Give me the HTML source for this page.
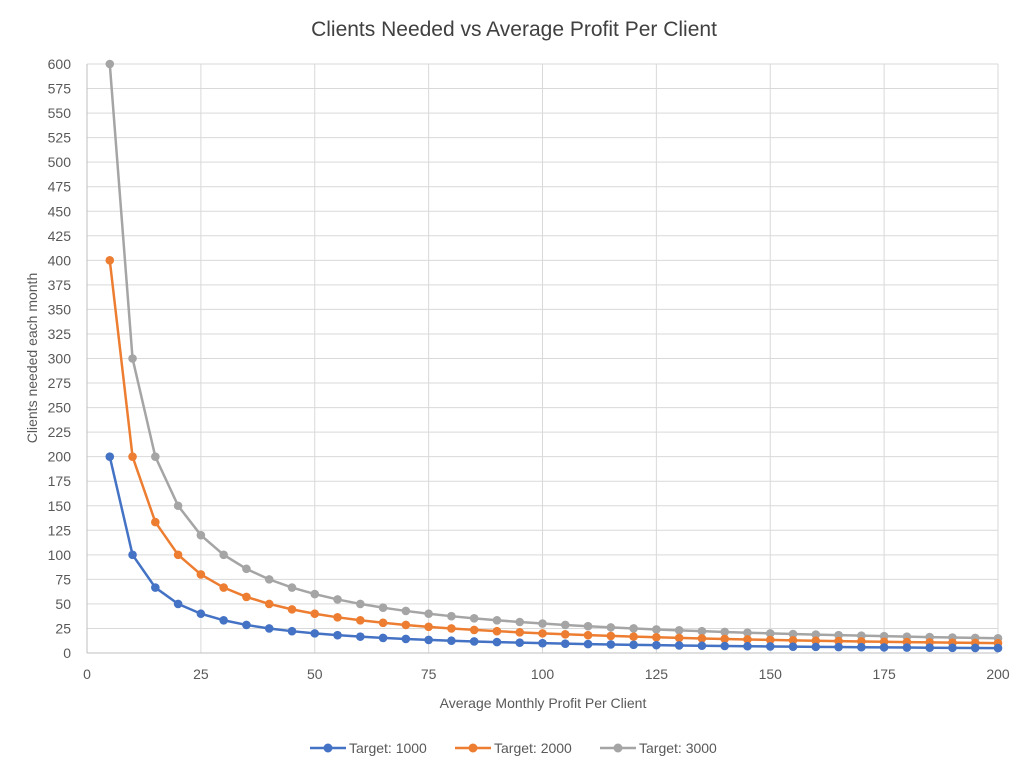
<!DOCTYPE html>
<html><head><meta charset="utf-8"><style>
body{margin:0;background:#fff;}
svg text{font-family:"Liberation Sans",sans-serif;fill:#595959;}
</style></head><body>
<svg id="c" width="1024" height="768" xmlns="http://www.w3.org/2000/svg">
<text x="514" y="36" text-anchor="middle" font-size="21" style="fill:#404040">Clients Needed vs Average Profit Per Client</text>
<g id="grid"></g>
<text x="543" y="708" text-anchor="middle" font-size="14">Average Monthly Profit Per Client</text>
<text transform="translate(37,358) rotate(-90)" text-anchor="middle" font-size="14">Clients needed each month</text>
<g id="series"></g>
<g font-size="14">
<line x1="310" y1="748" x2="346" y2="748" stroke="#4472C4" stroke-width="2.5"/><circle cx="328" cy="748" r="4.5" fill="#4472C4"/>
<text x="349" y="753">Target: 1000</text>
<line x1="455" y1="748" x2="491" y2="748" stroke="#ED7D31" stroke-width="2.5"/><circle cx="473" cy="748" r="4.5" fill="#ED7D31"/>
<text x="494" y="753">Target: 2000</text>
<line x1="600" y1="748" x2="636" y2="748" stroke="#A5A5A5" stroke-width="2.5"/><circle cx="618" cy="748" r="4.5" fill="#A5A5A5"/>
<text x="639" y="753">Target: 3000</text>
</g>
</svg>
<script>
var ns="http://www.w3.org/2000/svg";
function X(v){return 87+v*(998-87)/200;}
function Y(v){return 653-v*(653-64)/600;}
function el(t,a,p){var e=document.createElementNS(ns,t);for(var k in a)e.setAttribute(k,a[k]);p.appendChild(e);return e;}
var g=document.getElementById('grid');
for(var v=0;v<=600;v+=25){var y=Y(v);
 if(v>0)el('line',{x1:87,x2:998,y1:y,y2:y,stroke:'#d9d9d9','stroke-width':1},g);
 var t=el('text',{x:71,y:y+5,'text-anchor':'end','font-size':14},g);t.textContent=v;}
for(var v=0;v<=200;v+=25){var x=X(v);
 if(v>0)el('line',{x1:x,x2:x,y1:64,y2:653,stroke:'#d9d9d9','stroke-width':1},g);
 var t=el('text',{x:x,y:679,'text-anchor':'middle','font-size':14},g);t.textContent=v;}
el('line',{x1:87,x2:998,y1:653,y2:653,stroke:'#bfbfbf','stroke-width':1},g);
el('line',{x1:87,x2:87,y1:64,y2:653,stroke:'#bfbfbf','stroke-width':1},g);
var s=document.getElementById('series');
[[3000,'#A5A5A5'],[2000,'#ED7D31'],[1000,'#4472C4']].forEach(function(d){
 var pts=[];for(var x=5;x<=200;x+=5)pts.push([X(x),Y(d[0]/x)]);
 el('polyline',{points:pts.map(function(p){return p.join(',')}).join(' '),fill:'none',stroke:d[1],'stroke-width':2.5},s);
 pts.forEach(function(p){el('circle',{cx:p[0],cy:p[1],r:4.3,fill:d[1]},s);});
});
</script>
</body></html>
